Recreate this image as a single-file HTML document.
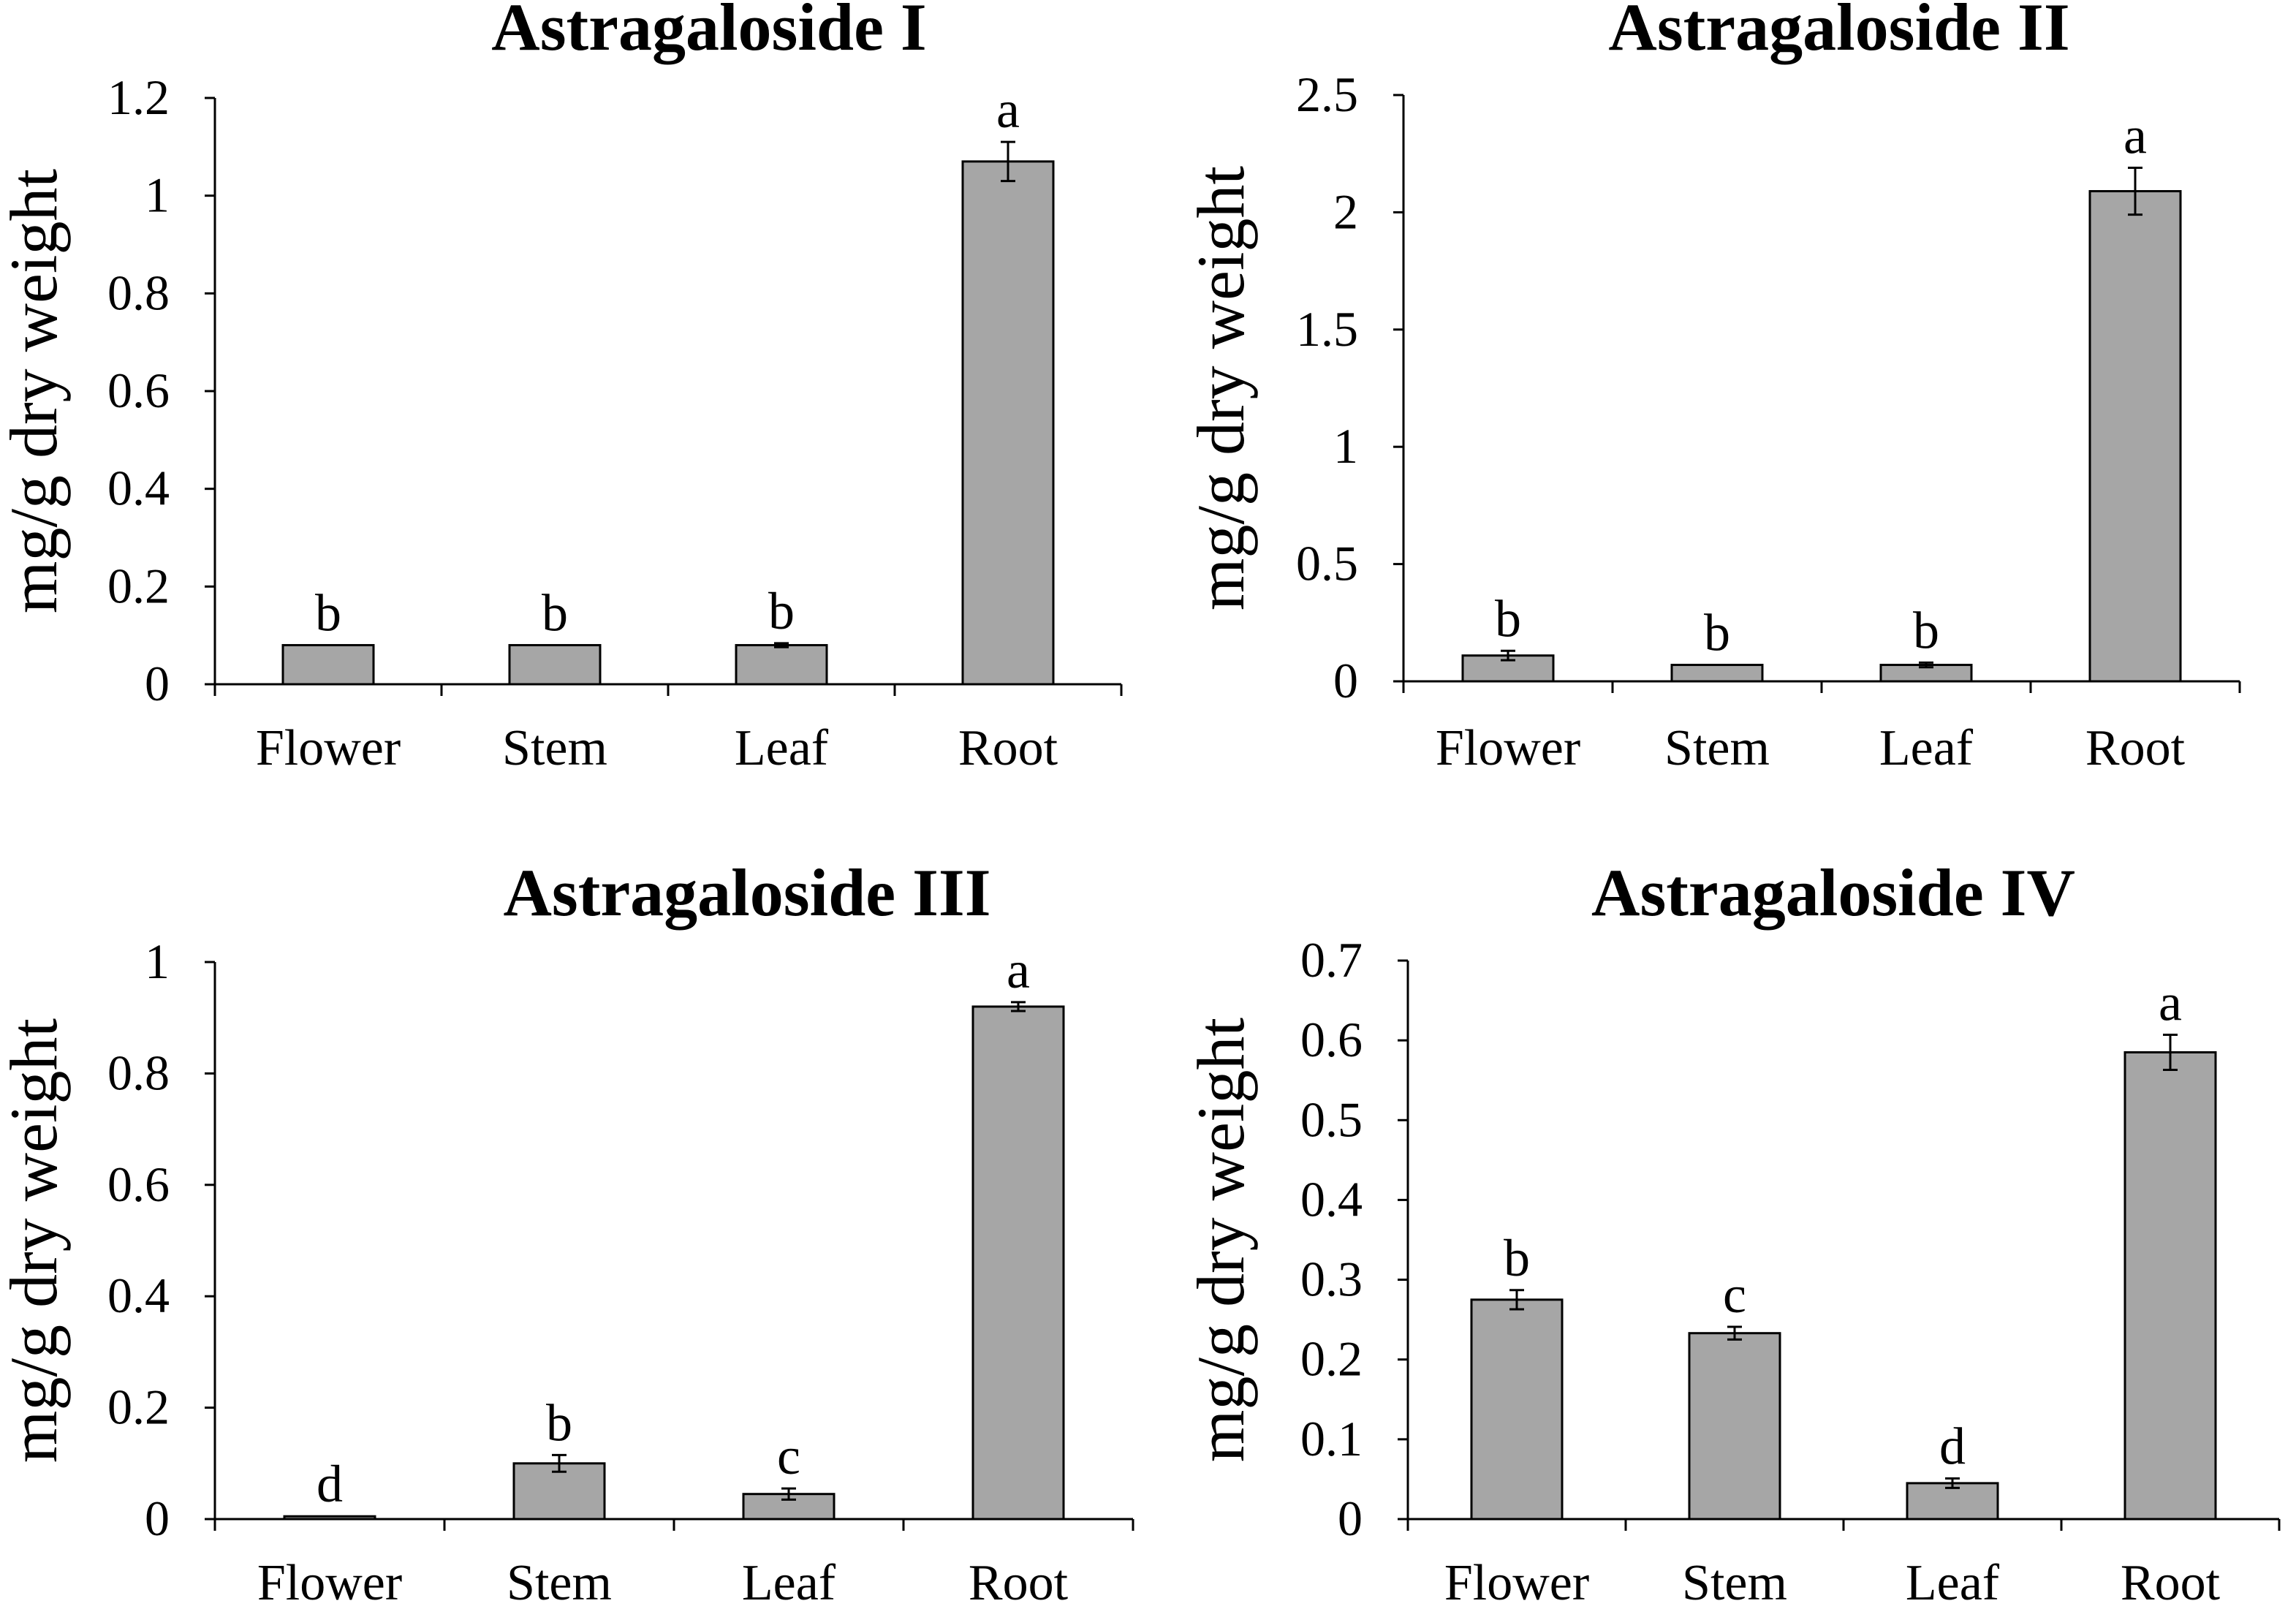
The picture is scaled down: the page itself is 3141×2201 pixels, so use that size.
<!DOCTYPE html>
<html><head><meta charset="utf-8"><style>
html,body{margin:0;padding:0;background:#fff}
svg{display:block}
text{font-family:"Liberation Serif",serif;fill:#000}
</style></head><body>
<svg id="c" width="3141" height="2201" viewBox="0 0 1570.5 1100.5" xmlns="http://www.w3.org/2000/svg"></svg>
<script>
const categories = ["Flower","Stem","Leaf","Root"];
const titles = ["Astragaloside I","Astragaloside II","Astragaloside III","Astragaloside IV"];
const values1 = [0.08,0.08,0.08,1.07];
const errors1 = [0,0,0.004,0.04];
const letters1 = ["b","b","b","a"];
const values2 = [0.11,0.07,0.07,2.09];
const errors2 = [0.02,0,0.01,0.1];
const letters2 = ["b","b","b","a"];
const values3 = [0.005,0.10,0.045,0.92];
const errors3 = [0,0.015,0.01,0.008];
const letters3 = ["d","b","c","a"];
const values4 = [0.275,0.233,0.045,0.585];
const errors4 = [0.012,0.008,0.006,0.022];
const letters4 = ["b","c","d","a"];
const ticks1 = ["0","0.2","0.4","0.6","0.8","1","1.2"];
const ticks2 = ["0","0.5","1","1.5","2","2.5"];
const ticks3 = ["0","0.2","0.4","0.6","0.8","1"];
const ticks4 = ["0","0.1","0.2","0.3","0.4","0.5","0.6","0.7"];

const NS="http://www.w3.org/2000/svg";
const svg=document.getElementById('c');
function mk(tag,attrs,parent){const e=document.createElementNS(NS,tag);for(const k in attrs)e.setAttribute(k,attrs[k]);(parent||svg).appendChild(e);return e;}

const panels=[
 {x0:147,y0:468,yTop:67,w:155,max:1.2,vals:values1,errs:errors1,lets:letters1,ticks:ticks1,tx:485,ty:34,catY:523,lx:28},
 {x0:960,y0:466,yTop:65,w:143,max:2.5,vals:values2,errs:errors2,lets:letters2,ticks:ticks2,tx:1258,ty:34,catY:523,lx:840},
 {x0:147,y0:1039,yTop:658,w:157,max:1,vals:values3,errs:errors3,lets:letters3,ticks:ticks3,tx:511,ty:626,catY:1094,lx:28},
 {x0:963,y0:1039,yTop:657,w:149,max:0.7,vals:values4,errs:errors4,lets:letters4,ticks:ticks4,tx:1254,ty:626,catY:1094,lx:840}
];
panels.forEach((p,i)=>{
 const g=mk('g',{});
 
 
 const ys=v=>p.y0-(v/p.max)*(p.y0-p.yTop);
 const t=mk('text',{x:p.tx,y:p.ty,'text-anchor':'middle','font-size':46,'font-weight':'bold'},g);
 t.textContent=titles[i];
 
 
 const cy=(p.y0+p.yTop)/2;
 const yl=mk('text',{x:p.lx,y:cy,'text-anchor':'middle','font-size':46,'font-family':'Liberation Sans, sans-serif',transform:`rotate(-90 ${p.lx} ${cy})`,'dominant-baseline':'middle'},g);
 yl.textContent="mg/g dry weight";
 
 
 const ya=mk('line',{x1:p.x0,y1:p.yTop,x2:p.x0,y2:p.y0,stroke:'#000','stroke-width':1.5},g);
 
 
 p.ticks.forEach(tl=>{
  const v=parseFloat(tl);const y=ys(v);
  mk('line',{x1:p.x0-7,y1:y,x2:p.x0,y2:y,stroke:'#000','stroke-width':1.5},g);
  const tt=mk('text',{x:p.x0-31,y:y+11,'text-anchor':'end','font-size':34},g);
  tt.textContent=tl;
  
  
 });
 const xEnd=p.x0+4*p.w;
 const xa=mk('line',{x1:p.x0,y1:p.y0,x2:xEnd,y2:p.y0,stroke:'#000','stroke-width':1.5},g);
 
 
 for(let k=0;k<=4;k++)mk('line',{x1:p.x0+k*p.w,y1:p.y0,x2:p.x0+k*p.w,y2:p.y0+8,stroke:'#000','stroke-width':1.5},g);
 const bw=62;
 p.vals.forEach((v,k)=>{
  const cx=p.x0+(k+0.5)*p.w;
  const y=ys(v);
  const r=mk('rect',{x:cx-bw/2,y:y,width:bw,height:p.y0-y,fill:'#a6a6a6',stroke:'#000','stroke-width':1.5},g);
  
  
  const e=p.errs[k];
  const yh=ys(v+e), yl2=ys(v-e);
  if(e>0){
   mk('line',{x1:cx,y1:yh,x2:cx,y2:yl2,stroke:'#000','stroke-width':1.5},g);
   mk('line',{x1:cx-5,y1:yh,x2:cx+5,y2:yh,stroke:'#000','stroke-width':1.5},g);
   mk('line',{x1:cx-5,y1:yl2,x2:cx+5,y2:yl2,stroke:'#000','stroke-width':1.5},g);
  }
  const lt=mk('text',{x:cx,y:yh-10,'text-anchor':'middle','font-size':36},g);
  lt.textContent=p.lets[k];
  
  
  const ct=mk('text',{x:cx,y:p.catY,'text-anchor':'middle','font-size':35},g);
  ct.textContent=categories[k];
  
  
 });
});
</script>
</body></html>
